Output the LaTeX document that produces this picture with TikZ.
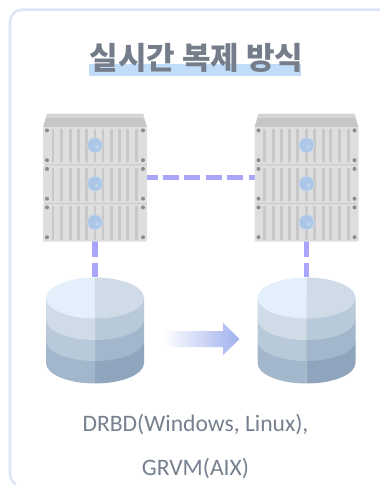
\documentclass[tikz,border=0pt]{standalone}
\usepackage{fontspec}
\setmainfont{Carlito}
\newfontfamily\krfont{Noto Sans CJK KR}
\usetikzlibrary{calc}
\definecolor{cardline}{HTML}{DDE6F6}
\definecolor{titlecol}{HTML}{757D8B}
\definecolor{hilite}{HTML}{C0DCF9}
\definecolor{textcol}{HTML}{76808F}
\definecolor{linkcol}{HTML}{A9A5FB}
\definecolor{unitfill}{HTML}{DEDEDE}
\definecolor{ventcol}{HTML}{C8C8C8}
\definecolor{capdark}{HTML}{C6C6C6}
\definecolor{caplight}{HTML}{D6D6D6}
\definecolor{screwcol}{HTML}{8E8C86}
\definecolor{lampring}{HTML}{C8D8EA}
\definecolor{lampcol}{HTML}{ABC6E6}
\definecolor{lamphi}{HTML}{BDD3EC}
\definecolor{dbA}{HTML}{E3F0FC}
\definecolor{dbB}{HTML}{CFDBE6}
\definecolor{dbC}{HTML}{B8C9D9}
\definecolor{dbD}{HTML}{A2B7CB}
\definecolor{dbE}{HTML}{8EA5BD}
\definecolor{arrowend}{HTML}{9FB0EE}
\tikzset{
  x=1pt,y=-1pt,
  hlink/.style={draw=linkcol,line width=5pt,dash pattern=on 16pt off 5.4pt,dash phase=5.5pt},
  vlink/.style={draw=linkcol,line width=5.4pt,dash pattern=on 16pt off 5.7pt},
  caption/.style={font=\fontsize{23.6}{26}\selectfont,text=textcol,inner sep=0pt,anchor=base},
  serverunit/.pic={
    \fill[unitfill,rounded corners=1pt] (-52,0) rectangle (52,37.5);
    \foreach \vx in {-42,-33.2,-24.8,-16.8,-8.7,0,8,16.7,24.3,32.7,41.7}
      \fill[ventcol] (\vx-1.4,2.2) rectangle (\vx+1.4,35.5);
    \foreach \sx in {-48,48} \foreach \sy in {3.4,33.2}
      \fill[screwcol] (\sx,\sy) circle[radius=2];
    \fill[lampring] (0,18.2) circle[radius=7.9];
    \fill[lampcol] (0,18.2) circle[radius=7];
    \fill[lamphi] (2,20) circle[radius=2];
  },
  serverpic/.pic={
    \fill[capdark] (-52,13) -- (-48,0) -- (48,0) -- (52,13) -- cycle;
    \fill[caplight] (-48,0) -- (48,0) -- (49.2,4) -- (-49.2,4) -- cycle;
    \fill[ventcol] (-51.5,50) rectangle (51.5,52);
    \fill[ventcol] (-51.5,88.6) rectangle (51.5,90.6);
    \pic at (0,13) {serverunit};
    \pic at (0,51.5) {serverunit};
    \pic at (0,90) {serverunit};
  },
}
\newcommand{\cylband}[5]{% cx, top y, bottom centre y, left, right
  \fill[#4] (#1-49,#2) -- (#1,#2) -- (#1,#3+20.5) arc[start angle=90,end angle=180,x radius=49,y radius=20.5] -- cycle;
  \fill[#5] (#1+49,#2) -- (#1,#2) -- (#1,#3+20.5) arc[start angle=90,end angle=0,x radius=49,y radius=20.5] -- cycle;
}
\newcommand{\cyltop}[1]{%
  \fill[dbA] (#1,277.5) arc[start angle=270,end angle=90,x radius=49,y radius=20.5] -- cycle;
  \fill[dbB] (#1,277.5) arc[start angle=-90,end angle=90,x radius=49,y radius=20.5] -- cycle;
}
\begin{document}
\begin{tikzpicture}[x=1pt,y=-1pt]
\useasboundingbox (0,0) rectangle (380,486);
\fill[white] (0,0) rectangle (380,486);
% card outline: top and left edges, open at right and bottom
\draw[cardline,line width=2.6pt] (380,9.7) -- (22,9.7) arc[start angle=-90,end angle=-180,radius=12] -- (10,474) arc[start angle=180,end angle=120,radius=12];
% title
\fill[hilite] (89,64) rectangle (301,76);
\node[font=\krfont\bfseries\fontsize{31}{34}\selectfont,text=titlecol,inner sep=0pt,anchor=base] (title) at (196.5,69.5) {실시간 복제 방식};
% anchor nodes
\node[inner sep=0pt,minimum width=104pt,minimum height=127pt] (serverL) at (95,177.5) {};
\node[inner sep=0pt,minimum width=104pt,minimum height=127pt] (serverR) at (306.5,177.5) {};
\node[inner sep=0pt,minimum width=98pt,minimum height=106pt] (dbL) at (95,330.5) {};
\node[inner sep=0pt,minimum width=98pt,minimum height=106pt] (dbR) at (306.5,330.5) {};
\coordinate (midL) at (147,178);
\coordinate (midR) at (254.5,178);
% connectors
\draw[hlink] (midL) -- (midR);
\draw[vlink] (serverL.south) -- (dbL.north);
\draw[vlink] (serverR.south) -- (dbR.north);
% servers
\pic at (95,114) {serverpic};
\pic at (306.5,114) {serverpic};
% cylinders
\foreach \c in {95,306.5}{
  \cylband{\c}{340.5}{363}{dbD}{dbE}
  \cylband{\c}{319.5}{340.5}{dbC}{dbD}
  \cylband{\c}{298}{319.5}{dbB}{dbC}
  \cyltop{\c}
}
% arrow
\shade[left color=white,right color=arrowend,shading angle=90] (163,331) -- (223,331) -- (223,323) -- (239.5,339) -- (223,355) -- (223,347) -- (163,347) -- cycle;
% captions
\node[caption] (line1) at (195.5,431.5) {DRBD(Windows, Linux),};
\node[caption] (line2) at (195.5,475) {GRVM(AIX)};
\end{tikzpicture}
\end{document}
